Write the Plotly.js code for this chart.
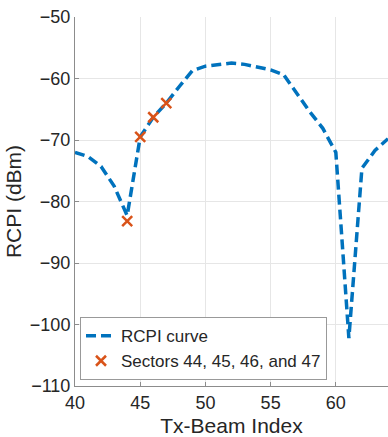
<!DOCTYPE html>
<html>
<head>
<meta charset="utf-8">
<script src="https://cdn.plot.ly/plotly-3.0.1.min.js"></script>
<style>html,body{margin:0;padding:0;background:#fff;}#chart{width:388px;height:437px;}</style>
</head>
<body>
<div id="chart"></div>
<script>
const beamIndex = [40,41,42,43,44,45,46,47,48,49,50,51,52,53,54,55,56,57,58,59,60,61,62,63,64];
const rcpi = [-72.0,-72.7,-74.3,-77.5,-82.3,-69.5,-66.3,-64.0,-61.3,-58.7,-58.0,-57.7,-57.5,-57.7,-58.1,-58.6,-59.4,-62.4,-65.4,-68.1,-72.0,-102.2,-74.6,-71.7,-69.8];
const sectorIdx = [44,45,46,47];
const sectorRcpi = [-83.2,-69.5,-66.3,-64.0];
const xTicks = [40,45,50,55,60];
const yTicks = [-110,-100,-90,-80,-70,-60,-50];

const blue = '#0072BD', orange = '#D95319';
const font = 'Liberation Sans, Arial, sans-serif';

const traces = [
  {x: beamIndex, y: rcpi, type: 'scatter', mode: 'lines', name: 'RCPI curve',
   line: {color: blue, width: 3.5, dash: '10px,5px'}},
  {x: sectorIdx, y: sectorRcpi, type: 'scatter', mode: 'markers', name: 'Sectors 44, 45, 46, and 47',
   marker: {symbol: 'x-thin-open', size: 10, color: orange, line: {color: orange, width: 2.5}}}
];

const layout = {
  width: 388, height: 437,
  margin: {l: 75, r: 0, t: 17, b: 51},
  paper_bgcolor: '#fff', plot_bgcolor: '#fff',
  font: {family: font, color: '#262626', size: 18},
  showlegend: true,
  legend: {x: 0.016, y: 0.016, xanchor: 'left', yanchor: 'bottom',
    bgcolor: '#fff', bordercolor: '#999', borderwidth: 1,
    font: {family: font, size: 17, color: '#262626'}, tracegroupgap: 0},
  xaxis: {range: [40, 64], tickvals: xTicks, ticktext: xTicks.map(String),
    showgrid: true, gridcolor: '#e6e6e6', zeroline: false,
    showline: true, linecolor: '#8c8c8c', linewidth: 1,
    ticks: 'inside', ticklen: 4, tickcolor: '#8c8c8c',
    tickfont: {size: 18, color: '#262626'},
    title: {text: 'Tx-Beam Index', font: {size: 21, color: '#262626'}, standoff: 6}},
  yaxis: {range: [-110, -50], tickvals: yTicks,
    showgrid: true, gridcolor: '#e6e6e6', zeroline: false,
    showline: true, linecolor: '#8c8c8c', linewidth: 1,
    ticks: 'inside', ticklen: 4, tickcolor: '#8c8c8c',
    tickfont: {size: 18, color: '#262626'},
    title: {text: 'RCPI (dBm)', font: {size: 21, color: '#262626'}, standoff: 2}},
  hovermode: false
};

Plotly.newPlot('chart', traces, layout, {displayModeBar: false, staticPlot: true});
</script>
</body>
</html>
